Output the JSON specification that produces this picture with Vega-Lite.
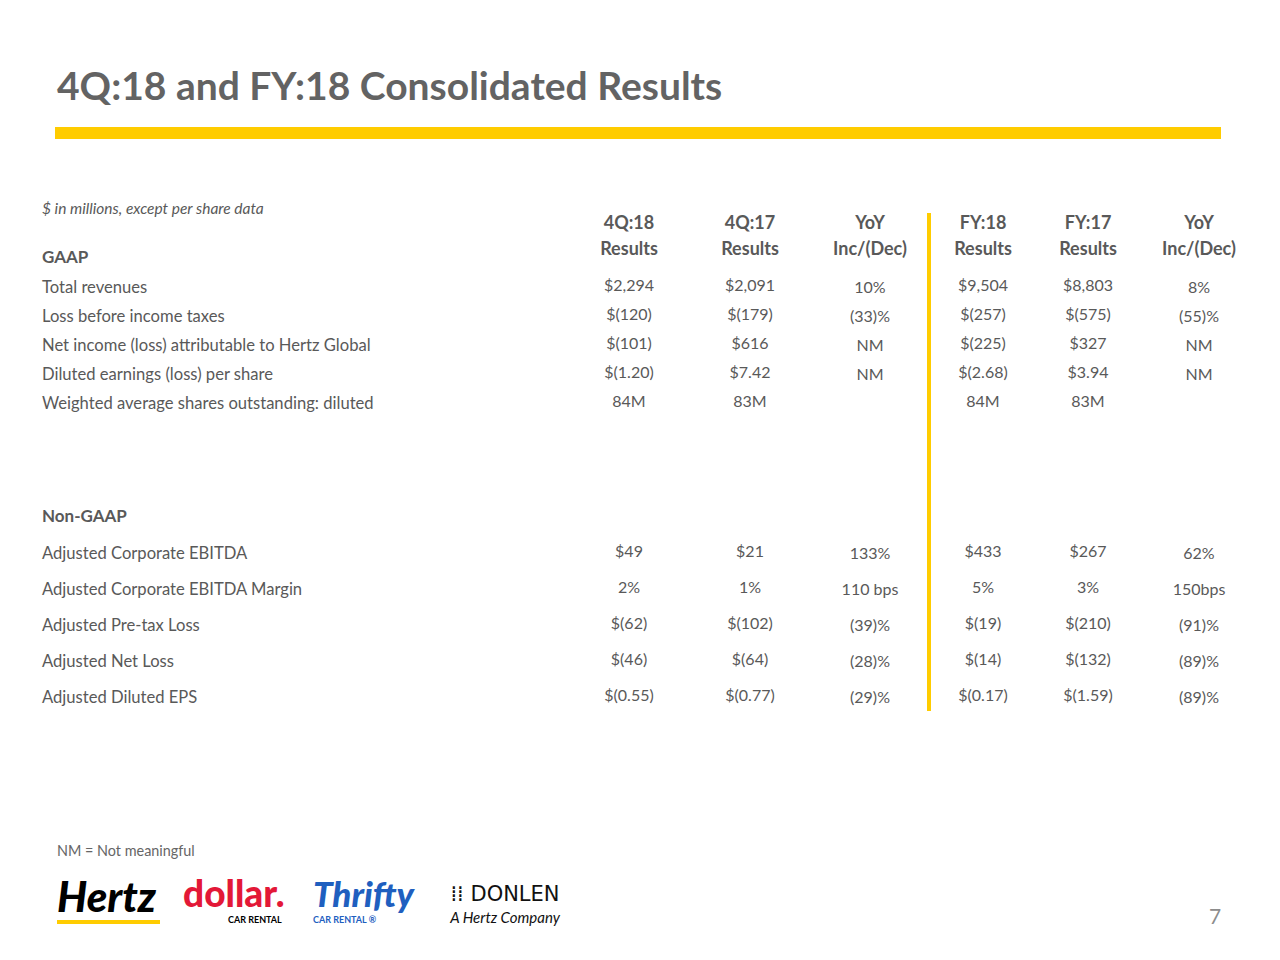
{
  "$schema": "https://vega.github.io/schema/vega-lite/v6.json",
  "width": 1280,
  "height": 960,
  "autosize": "none",
  "padding": 0,
  "background": "white",
  "config": {"view": {"stroke": null}, "axis": {"disable": true}, "legend": {"disable": true}},
  "datasets": {
    "labels": [
      {"row": 7, "col": 0, "text": "Total revenues"},
      {"row": 8, "col": 0, "text": "Loss before income taxes"},
      {"row": 9, "col": 0, "text": "Net income (loss) attributable to Hertz Global"},
      {"row": 10, "col": 0, "text": "Diluted earnings (loss) per share"},
      {"row": 11, "col": 0, "text": "Weighted average shares outstanding: diluted"},
      {"row": 13, "col": 0, "text": "Adjusted Corporate EBITDA"},
      {"row": 14, "col": 0, "text": "Adjusted Corporate EBITDA Margin"},
      {"row": 15, "col": 0, "text": "Adjusted Pre-tax Loss"},
      {"row": 16, "col": 0, "text": "Adjusted Net Loss"},
      {"row": 17, "col": 0, "text": "Adjusted Diluted EPS"}
    ],
    "sections": [
      {"row": 6, "col": 0, "text": "GAAP"},
      {"row": 12, "col": 0, "text": "Non-GAAP"}
    ],
    "headers": [
      {"row": 4, "col": 8, "text": "4Q:18"},
      {"row": 4, "col": 9, "text": "4Q:17"},
      {"row": 4, "col": 10, "text": "YoY"},
      {"row": 4, "col": 12, "text": "FY:18"},
      {"row": 4, "col": 13, "text": "FY:17"},
      {"row": 4, "col": 14, "text": "YoY"},
      {"row": 5, "col": 8, "text": "Results"},
      {"row": 5, "col": 9, "text": "Results"},
      {"row": 5, "col": 10, "text": "Inc/(Dec)"},
      {"row": 5, "col": 12, "text": "Results"},
      {"row": 5, "col": 13, "text": "Results"},
      {"row": 5, "col": 14, "text": "Inc/(Dec)"}
    ],
    "cells": [
      {"row": 7, "col": 8, "text": "$2,294"},
      {"row": 7, "col": 9, "text": "$2,091"},
      {"row": 7, "col": 10, "text": "10%"},
      {"row": 7, "col": 12, "text": "$9,504"},
      {"row": 7, "col": 13, "text": "$8,803"},
      {"row": 7, "col": 14, "text": "8%"},
      {"row": 8, "col": 8, "text": "$(120)"},
      {"row": 8, "col": 9, "text": "$(179)"},
      {"row": 8, "col": 10, "text": "(33)%"},
      {"row": 8, "col": 12, "text": "$(257)"},
      {"row": 8, "col": 13, "text": "$(575)"},
      {"row": 8, "col": 14, "text": "(55)%"},
      {"row": 9, "col": 8, "text": "$(101)"},
      {"row": 9, "col": 9, "text": "$616"},
      {"row": 9, "col": 10, "text": "NM"},
      {"row": 9, "col": 12, "text": "$(225)"},
      {"row": 9, "col": 13, "text": "$327"},
      {"row": 9, "col": 14, "text": "NM"},
      {"row": 10, "col": 8, "text": "$(1.20)"},
      {"row": 10, "col": 9, "text": "$7.42"},
      {"row": 10, "col": 10, "text": "NM"},
      {"row": 10, "col": 12, "text": "$(2.68)"},
      {"row": 10, "col": 13, "text": "$3.94"},
      {"row": 10, "col": 14, "text": "NM"},
      {"row": 11, "col": 8, "text": "84M"},
      {"row": 11, "col": 9, "text": "83M"},
      {"row": 11, "col": 12, "text": "84M"},
      {"row": 11, "col": 13, "text": "83M"},
      {"row": 13, "col": 8, "text": "$49"},
      {"row": 13, "col": 9, "text": "$21"},
      {"row": 13, "col": 10, "text": "133%"},
      {"row": 13, "col": 12, "text": "$433"},
      {"row": 13, "col": 13, "text": "$267"},
      {"row": 13, "col": 14, "text": "62%"},
      {"row": 14, "col": 8, "text": "2%"},
      {"row": 14, "col": 9, "text": "1%"},
      {"row": 14, "col": 10, "text": "110 bps"},
      {"row": 14, "col": 12, "text": "5%"},
      {"row": 14, "col": 13, "text": "3%"},
      {"row": 14, "col": 14, "text": "150bps"},
      {"row": 15, "col": 8, "text": "$(62)"},
      {"row": 15, "col": 9, "text": "$(102)"},
      {"row": 15, "col": 10, "text": "(39)%"},
      {"row": 15, "col": 12, "text": "$(19)"},
      {"row": 15, "col": 13, "text": "$(210)"},
      {"row": 15, "col": 14, "text": "(91)%"},
      {"row": 16, "col": 8, "text": "$(46)"},
      {"row": 16, "col": 9, "text": "$(64)"},
      {"row": 16, "col": 10, "text": "(28)%"},
      {"row": 16, "col": 12, "text": "$(14)"},
      {"row": 16, "col": 13, "text": "$(132)"},
      {"row": 16, "col": 14, "text": "(89)%"},
      {"row": 17, "col": 8, "text": "$(0.55)"},
      {"row": 17, "col": 9, "text": "$(0.77)"},
      {"row": 17, "col": 10, "text": "(29)%"},
      {"row": 17, "col": 12, "text": "$(0.17)"},
      {"row": 17, "col": 13, "text": "$(1.59)"},
      {"row": 17, "col": 14, "text": "(89)%"}
    ],
    "logos": [
      {"part": "bigItalic", "brand": "Hertz", "row": 21, "col": 2, "text": "Hertz"},
      {"part": "bigItalic", "brand": "Thrifty", "row": 20, "col": 6, "text": "Thrifty"},
      {"part": "bigUpright", "brand": "Dollar", "row": 20, "col": 4, "text": "dollar."},
      {"part": "small", "brand": "Dollar", "row": 22, "col": 5, "text": "CAR RENTAL"},
      {"part": "small", "brand": "Thrifty", "row": 22, "col": 6, "text": "CAR RENTAL ®"},
      {"part": "donlen", "brand": "Donlen", "row": 20, "col": 7, "text": "⁞⁞ DONLEN"},
      {"part": "company", "brand": "Donlen", "row": 22, "col": 7, "text": "A Hertz Company"}
    ]
  },
  "layer": [
    {
      "data": {"values": [{}]},
      "mark": {"type": "rule", "color": "#FFCC00", "strokeWidth": 12},
      "encoding": {
        "x": {"datum": 1, "type": "quantitative", "scale": {"type": "linear", "domain": [0,1,2,3,4,5,6,7,8,9,10,11,12,13,14,15,16], "range": [42,55,57,160,183,228,313,505,629,750,870,929,983,1088,1199,1215,1221], "nice": false, "zero": false}},
        "x2": {"datum": 16},
        "y": {"datum": 1, "type": "quantitative", "scale": {"type": "linear", "domain": [0,1,2,3,4,5,6,7,8,9,10,11,12,13,14,15,16,17,18,19,20,21,22,23], "range": [88,133,209,213,222,248,258,288,317,346,375,404,517,554,590,626,662,698,711,852,896,900,918,922], "nice": false, "zero": false}}
      }
    },
    {
      "data": {"values": [{}]},
      "mark": {"type": "rule", "color": "#FFCC00", "strokeWidth": 4},
      "encoding": {
        "x": {"datum": 11, "type": "quantitative"},
        "y": {"datum": 3, "type": "quantitative"},
        "y2": {"datum": 18}
      }
    },
    {
      "data": {"values": [{}]},
      "mark": {"type": "rule", "color": "#FFCC00", "strokeWidth": 4},
      "encoding": {
        "x": {"datum": 2, "type": "quantitative"},
        "x2": {"datum": 3},
        "y": {"datum": 23, "type": "quantitative"}
      }
    },
    {
      "data": {"values": [{"row": 0, "col": 2, "text": "4Q:18 and FY:18 Consolidated Results"}]},
      "mark": {"type": "text", "align": "left", "baseline": "middle", "font": "Lato", "fontWeight": "bold", "fontSize": 39, "color": "#636363"},
      "encoding": {
        "x": {"field": "col", "type": "quantitative"},
        "y": {"field": "row", "type": "quantitative"},
        "text": {"field": "text"}
      }
    },
    {
      "data": {"values": [{"row": 2, "col": 0, "text": "$ in millions, except per share data"}]},
      "mark": {"type": "text", "align": "left", "baseline": "middle", "font": "Lato", "fontStyle": "italic", "fontSize": 15.5, "color": "#595959"},
      "encoding": {
        "x": {"field": "col", "type": "quantitative"},
        "y": {"field": "row", "type": "quantitative"},
        "text": {"field": "text"}
      }
    },
    {
      "data": {"name": "sections"},
      "mark": {"type": "text", "align": "left", "baseline": "middle", "font": "Lato", "fontWeight": "bold", "fontSize": 17, "color": "#595959"},
      "encoding": {
        "x": {"field": "col", "type": "quantitative"},
        "y": {"field": "row", "type": "quantitative"},
        "text": {"field": "text"}
      }
    },
    {
      "data": {"name": "labels"},
      "mark": {"type": "text", "align": "left", "baseline": "middle", "font": "Lato", "fontSize": 16.6, "color": "#595959"},
      "encoding": {
        "x": {"field": "col", "type": "quantitative"},
        "y": {"field": "row", "type": "quantitative"},
        "text": {"field": "text"}
      }
    },
    {
      "data": {"name": "headers"},
      "mark": {"type": "text", "align": "center", "baseline": "middle", "font": "Lato", "fontWeight": "bold", "fontSize": 18, "color": "#595959", "dy": 2},
      "encoding": {
        "x": {"field": "col", "type": "quantitative"},
        "y": {"field": "row", "type": "quantitative"},
        "text": {"field": "text"}
      }
    },
    {
      "data": {"name": "cells"},
      "transform": [{"filter": "datum.col !== 10 && datum.col !== 14"}],
      "mark": {"type": "text", "align": "center", "baseline": "middle", "font": "Lato", "fontSize": 16, "color": "#595959", "dy": -2},
      "encoding": {
        "x": {"field": "col", "type": "quantitative"},
        "y": {"field": "row", "type": "quantitative"},
        "text": {"field": "text"}
      }
    },
    {
      "data": {"name": "cells"},
      "transform": [{"filter": "datum.col === 10 || datum.col === 14"}],
      "mark": {"type": "text", "align": "center", "baseline": "middle", "font": "Lato", "fontSize": 16, "color": "#595959"},
      "encoding": {
        "x": {"field": "col", "type": "quantitative"},
        "y": {"field": "row", "type": "quantitative"},
        "text": {"field": "text"}
      }
    },
    {
      "data": {"values": [{"row": 19, "col": 2, "text": "NM = Not meaningful"}]},
      "mark": {"type": "text", "align": "left", "baseline": "middle", "font": "Lato", "fontSize": 14.4, "color": "#666666"},
      "encoding": {
        "x": {"field": "col", "type": "quantitative"},
        "y": {"field": "row", "type": "quantitative"},
        "text": {"field": "text"}
      }
    },
    {
      "data": {"values": [{"row": 22, "col": 15, "text": "7"}]},
      "mark": {"type": "text", "align": "center", "baseline": "middle", "font": "Lato", "fontSize": 21, "color": "#8c8c8c"},
      "encoding": {
        "x": {"field": "col", "type": "quantitative"},
        "y": {"field": "row", "type": "quantitative"},
        "text": {"field": "text"}
      }
    },
    {
      "data": {"name": "logos"},
      "transform": [{"filter": "datum.part === 'bigItalic' && datum.brand === 'Hertz'"}],
      "mark": {"type": "text", "align": "left", "baseline": "middle", "font": "Lato", "fontWeight": 900, "fontStyle": "italic", "fontSize": 42, "dy": -1},
      "encoding": {
        "x": {"field": "col", "type": "quantitative"},
        "y": {"field": "row", "type": "quantitative"},
        "text": {"field": "text"},
        "color": {"field": "brand", "type": "nominal", "scale": {"domain": ["Hertz", "Dollar", "Thrifty", "Donlen"], "range": ["#000000", "#e31837", "#1f5fbf", "#111111"]}}
      }
    },
    {
      "data": {"name": "logos"},
      "transform": [{"filter": "datum.part === 'bigItalic' && datum.brand === 'Thrifty'"}],
      "mark": {"type": "text", "align": "left", "baseline": "middle", "font": "Lato", "fontWeight": 900, "fontStyle": "italic", "fontSize": 35},
      "encoding": {
        "x": {"field": "col", "type": "quantitative"},
        "y": {"field": "row", "type": "quantitative"},
        "text": {"field": "text"},
        "color": {"field": "brand", "type": "nominal"}
      }
    },
    {
      "data": {"name": "logos"},
      "transform": [{"filter": "datum.part === 'bigUpright'"}],
      "mark": {"type": "text", "align": "left", "baseline": "middle", "font": "Lato", "fontWeight": 900, "fontSize": 37},
      "encoding": {
        "x": {"field": "col", "type": "quantitative"},
        "y": {"field": "row", "type": "quantitative"},
        "text": {"field": "text"},
        "color": {"field": "brand", "type": "nominal"}
      }
    },
    {
      "data": {"name": "logos"},
      "transform": [{"filter": "datum.part === 'small' && datum.brand === 'Thrifty'"}],
      "mark": {"type": "text", "align": "left", "baseline": "middle", "font": "Lato", "fontWeight": "bold", "fontSize": 9, "dy": 2},
      "encoding": {
        "x": {"field": "col", "type": "quantitative"},
        "y": {"field": "row", "type": "quantitative"},
        "text": {"field": "text"},
        "color": {"field": "brand", "type": "nominal"}
      }
    },
    {
      "data": {"name": "logos"},
      "transform": [{"filter": "datum.part === 'small' && datum.brand === 'Dollar'"}],
      "mark": {"type": "text", "align": "left", "baseline": "middle", "font": "Lato", "fontWeight": "bold", "fontSize": 9, "dy": 2, "color": "#000000"},
      "encoding": {
        "x": {"field": "col", "type": "quantitative"},
        "y": {"field": "row", "type": "quantitative"},
        "text": {"field": "text"}
      }
    },
    {
      "data": {"name": "logos"},
      "transform": [{"filter": "datum.part === 'donlen'"}],
      "mark": {"type": "text", "align": "center", "baseline": "middle", "font": "DejaVu Sans", "fontSize": 21, "dy": -1},
      "encoding": {
        "x": {"field": "col", "type": "quantitative"},
        "y": {"field": "row", "type": "quantitative"},
        "text": {"field": "text"},
        "color": {"field": "brand", "type": "nominal"}
      }
    },
    {
      "data": {"name": "logos"},
      "transform": [{"filter": "datum.part === 'company'"}],
      "mark": {"type": "text", "align": "center", "baseline": "middle", "font": "Lato", "fontStyle": "italic", "fontSize": 15},
      "encoding": {
        "x": {"field": "col", "type": "quantitative"},
        "y": {"field": "row", "type": "quantitative"},
        "text": {"field": "text"},
        "color": {"field": "brand", "type": "nominal"}
      }
    }
  ]
}
